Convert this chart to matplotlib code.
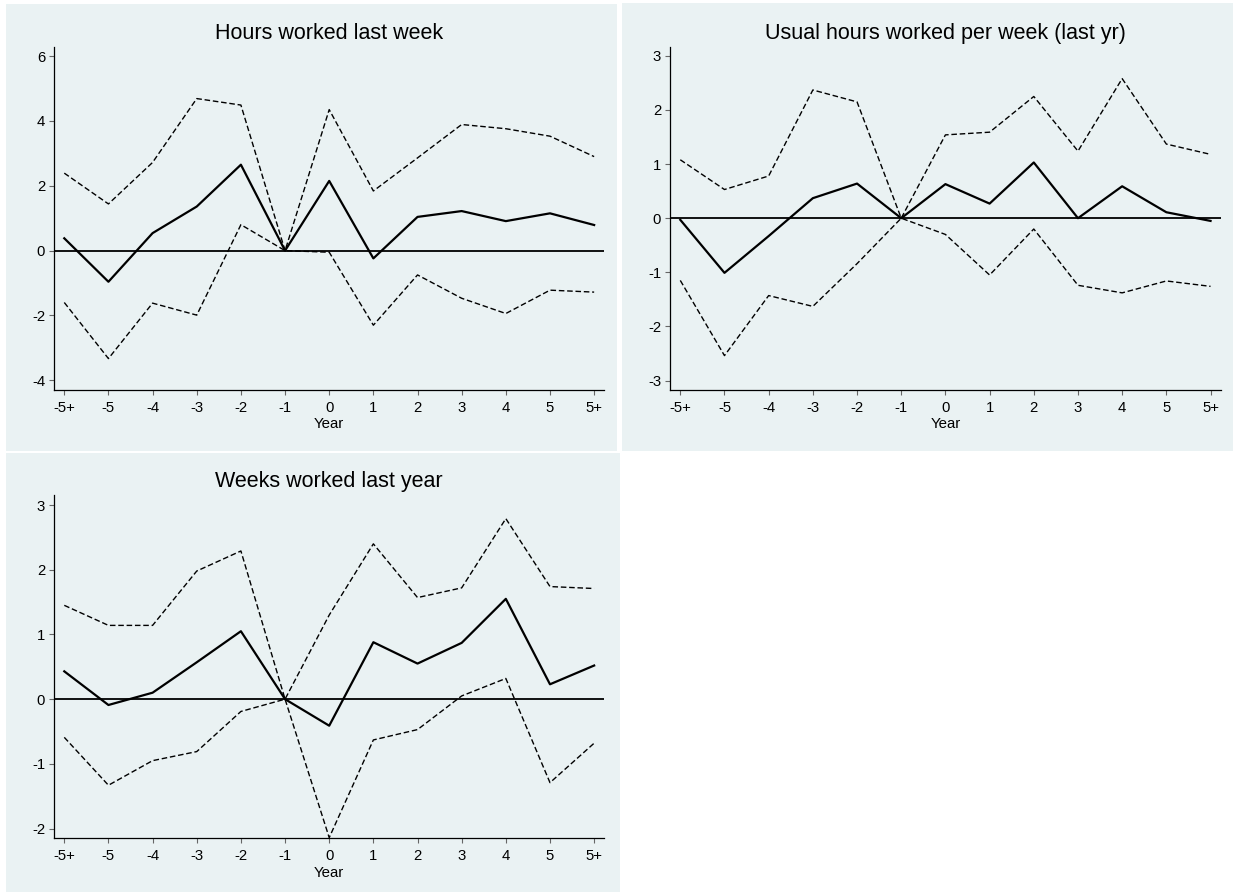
import matplotlib
matplotlib.use("Agg")
import matplotlib.pyplot as plt
from matplotlib.patches import Rectangle

plt.rcParams['font.family'] = ['Liberation Sans', 'DejaVu Sans']

# x categories (event time)
years = ['-5+', '-5', '-4', '-3', '-2', '-1', '0', '1', '2', '3', '4', '5', '5+']

# Hours worked last week
hours_est = [0.38, -0.96, 0.54, 1.36, 2.65, 0, 2.15, -0.24, 1.04, 1.22, 0.91, 1.15, 0.79]
hours_hi = [2.39, 1.44, 2.72, 4.69, 4.49, 0, 4.35, 1.84, 2.86, 3.89, 3.76, 3.53, 2.90]
hours_lo = [-1.60, -3.33, -1.62, -1.99, 0.80, 0, -0.05, -2.30, -0.75, -1.47, -1.94, -1.22, -1.28]

# Usual hours worked per week (last yr)
usual_est = [-0.03, -1.01, -0.33, 0.37, 0.64, 0, 0.63, 0.27, 1.03, 0.0, 0.59, 0.11, -0.05]
usual_hi = [1.08, 0.53, 0.78, 2.37, 2.15, 0, 1.54, 1.59, 2.25, 1.24, 2.58, 1.37, 1.18]
usual_lo = [-1.15, -2.54, -1.43, -1.63, -0.84, 0, -0.30, -1.05, -0.20, -1.24, -1.38, -1.16, -1.26]

# Weeks worked last year
weeks_est = [0.43, -0.09, 0.10, 0.57, 1.05, 0, -0.41, 0.88, 0.55, 0.87, 1.55, 0.23, 0.52]
weeks_hi = [1.45, 1.14, 1.14, 1.98, 2.29, 0, 1.30, 2.40, 1.57, 1.72, 2.79, 1.74, 1.71]
weeks_lo = [-0.59, -1.33, -0.95, -0.81, -0.19, 0, -2.14, -0.63, -0.47, 0.05, 0.32, -1.29, -0.68]

W, H = 1233, 894
bg = '#EAF2F3'

fig = plt.figure(figsize=(W / 100, H / 100), dpi=100)
fig.patch.set_facecolor('white')


def box(x0, y0, x1, y1):
    # pixel box (top-left origin) -> figure fraction rect
    return [x0 / W, 1 - y1 / H, (x1 - x0) / W, (y1 - y0) / H]


# grey panel backgrounds (behind the axes)
for (x0, y0, x1, y1) in [(6, 4, 617, 451), (622, 3, 1233, 451), (6, 453, 620, 892)]:
    r = box(x0, y0, x1, y1)
    fig.patches.append(Rectangle((r[0], r[1]), r[2], r[3], transform=fig.transFigure,
                                 facecolor=bg, edgecolor='none', zorder=-5))


def panel(rect, title, est, hi, lo, yticks, ylim):
    ax = fig.add_axes(box(*rect))
    ax.set_facecolor(bg)
    x = list(range(len(years)))
    ax.axhline(0, color='black', lw=1.3, zorder=1)
    ax.plot(x, hi, color='black', lw=1.0, linestyle=(0, (4, 2)))
    ax.plot(x, lo, color='black', lw=1.0, linestyle=(0, (4, 2)))
    ax.plot(x, est, color='black', lw=1.6)
    ax.set_xlim(-0.226, 12.23)
    ax.set_ylim(*ylim)
    ax.set_xticks(x)
    ax.set_xticklabels(years)
    ax.set_yticks(yticks)
    ax.set_yticklabels([str(t) for t in yticks])
    for s in ['top', 'right']:
        ax.spines[s].set_visible(False)
    for s in ['left', 'bottom']:
        ax.spines[s].set_color('black')
        ax.spines[s].set_linewidth(0.9)
    ax.tick_params(direction='out', length=3.6, width=0.8, color='#666666',
                   labelsize=10.7)
    ax.tick_params(axis='x', pad=4.3)
    ax.tick_params(axis='y', pad=3)
    ax.set_xlabel('Year', fontsize=10.8, labelpad=2)
    ax.set_title(title, fontsize=15.5, pad=5.5)
    return ax


panel((54.3, 46.7, 604.3, 389.7), 'Hours worked last week',
      hours_est, hours_hi, hours_lo, [-4, -2, 0, 2, 4, 6], (-4.29, 6.29))
panel((670.3, 46.7, 1220.7, 389.7), 'Usual hours worked per week (last yr)',
      usual_est, usual_hi, usual_lo, [-3, -2, -1, 0, 1, 2, 3], (-3.17, 3.17))
panel((54.3, 495, 604.3, 838.3), 'Weeks worked last year',
      weeks_est, weeks_hi, weeks_lo, [-2, -1, 0, 1, 2, 3], (-2.15, 3.155))

fig.savefig('out.png', dpi=100, facecolor='white')
